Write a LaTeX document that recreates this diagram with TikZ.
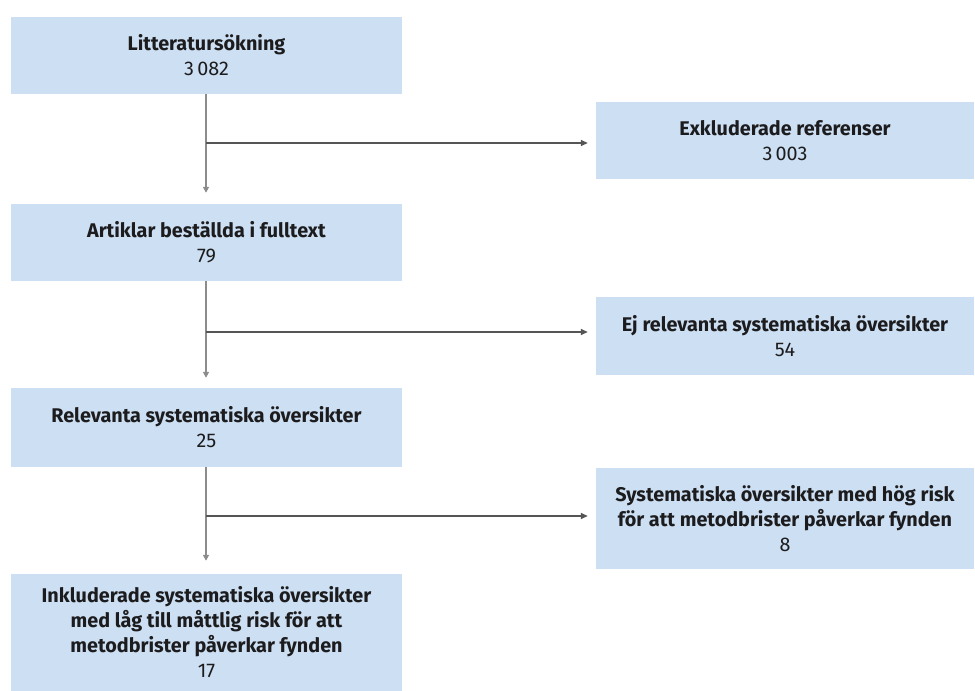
\documentclass[tikz,border=0pt]{standalone}
\usepackage{fontspec}
\setmainfont{Fira Sans}
\usetikzlibrary{arrows.meta}
\definecolor{boxblue}{RGB}{205,223,242}
\definecolor{txt}{RGB}{28,28,30}
\definecolor{vline}{RGB}{140,140,140}
\definecolor{hline}{RGB}{85,85,85}
\tikzset{
  box/.style={fill=boxblue, draw=none, inner sep=0pt, align=center, text=txt,
    font=\fontsize{19.8}{25}\selectfont},
  vconn/.style={draw=vline, line width=1.5pt, -{Triangle[width=6pt,length=6pt]}, color=vline},
  hconn/.style={draw=hline, line width=1.5pt, -{Triangle[width=6pt,length=7pt]}, color=hline},
}
\begin{document}
\begin{tikzpicture}[x=1pt,y=-1pt]
\useasboundingbox (0,0) rectangle (975,691);
% left boxes
\node[box, minimum width=391pt, minimum height=77pt] (b1) at (206.5,55.5)
  {\textbf{Litteratursökning}\\3\,082};
\node[box, minimum width=391pt, minimum height=77pt] (b2) at (206.5,242.5)
  {\textbf{Artiklar beställda i fulltext}\\79};
\node[box, minimum width=391pt, minimum height=79pt] (b3) at (206.5,427.5)
  {\textbf{Relevanta systematiska översikter}\\25};
\node[box, minimum width=391pt, minimum height=117pt] (b4) at (206.5,632.5)
  {\textbf{Inkluderade systematiska översikter}\\\textbf{med låg till måttlig risk för att}\\\textbf{metodbrister påverkar fynden}\\17};
% right boxes
\node[box, minimum width=378pt, minimum height=77pt] (r1) at (785,140.5)
  {\textbf{Exkluderade referenser}\\3\,003};
\node[box, minimum width=378pt, minimum height=78pt] (r2) at (785,336)
  {\textbf{Ej relevanta systematiska översikter}\\54};
\node[box, minimum width=378pt, minimum height=101pt] (r3) at (785,518.5)
  {\textbf{Systematiska översikter med hög risk}\\\textbf{för att metodbrister påverkar fynden}\\8};
% junctions
\coordinate (j1) at (206,143);
\coordinate (j2) at (206,332);
\coordinate (j3) at (206,516);
% vertical connectors
\draw[vconn, shorten >=11pt] (b1.south -| j1) -- (b2.north -| j1);
\draw[vconn, shorten >=10pt] (b2.south -| j2) -- (b3.north -| j2);
\draw[vconn, shorten >=13pt] (b3.south -| j3) -- (b4.north -| j3);
% horizontal connectors
\draw[hconn, shorten >=8pt] (j1) -- (j1 -| r1.west);
\draw[hconn, shorten >=8pt] (j2) -- (j2 -| r2.west);
\draw[hconn, shorten >=8pt] (j3) -- (j3 -| r3.west);
\end{tikzpicture}
\end{document}
